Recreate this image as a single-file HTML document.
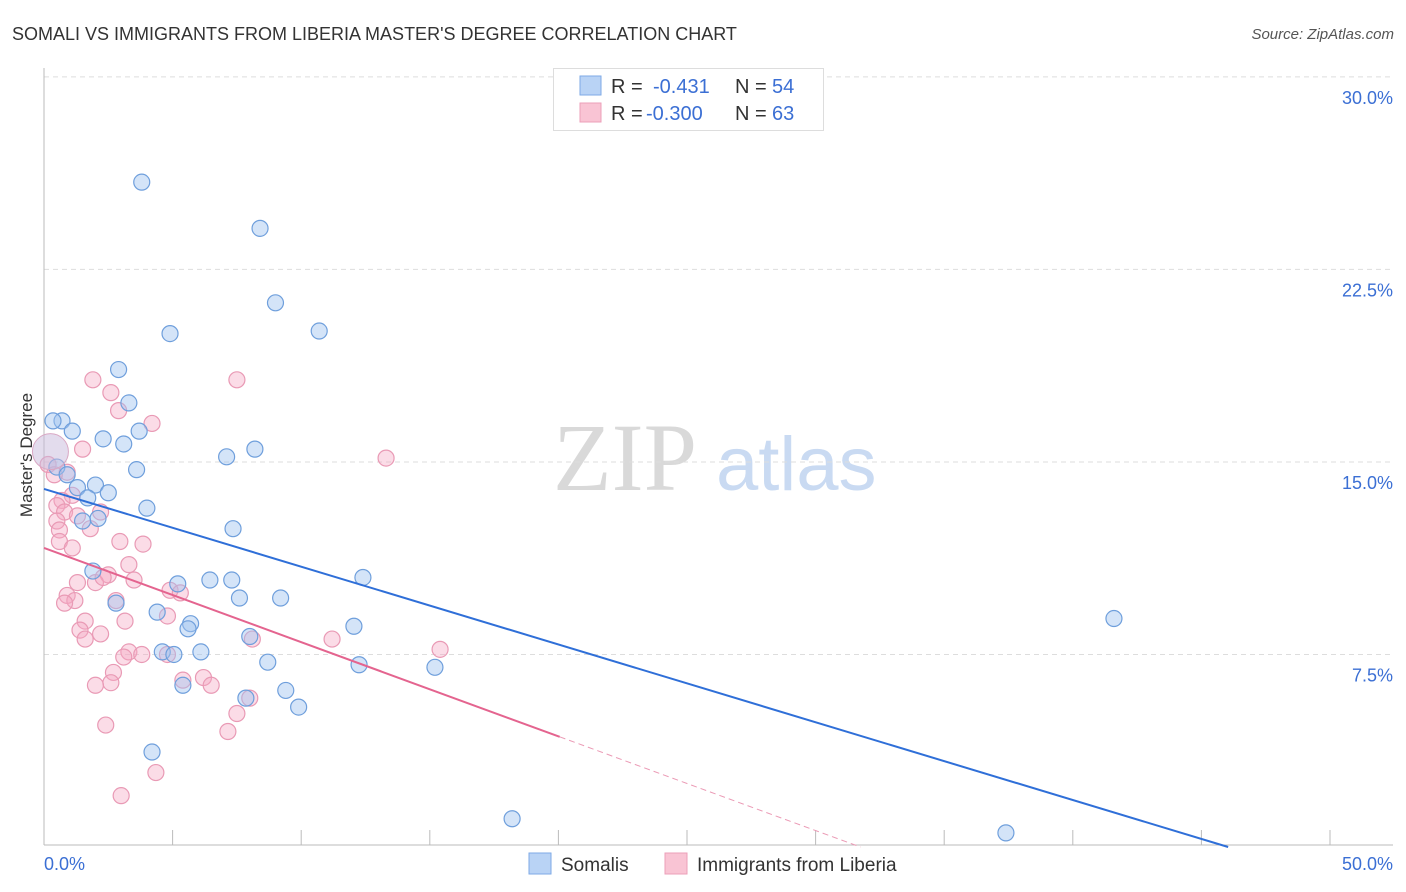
<!DOCTYPE html>
<html><head><meta charset="utf-8"><style>
body{margin:0;background:#fff;font-family:"Liberation Sans",sans-serif}
svg{display:block}
</style></head><body>
<svg id="c" width="1406" height="892" xmlns="http://www.w3.org/2000/svg">
<text x="12" y="40" font-size="18" fill="#333">SOMALI VS IMMIGRANTS FROM LIBERIA MASTER'S DEGREE CORRELATION CHART</text>
<text x="1394" y="39" font-size="15" fill="#555" font-style="italic" text-anchor="end">Source: ZipAtlas.com</text>
<g>
<text x="553" y="490" font-size="96" font-family="Liberation Serif,serif" fill="#d9d9d9">ZIP</text>
<text x="716" y="490" font-size="76" fill="#c9daf2">atlas</text>
</g>
<g id="grid"></g>
<g id="pts"></g>
<g id="lines"></g>
<text x="36" y="455" font-size="17" fill="#333" text-anchor="middle" transform="rotate(-90 36 455)" dy="-4">Master's Degree</text>
<text x="44" y="870" font-size="18" fill="#3b6fd4">0.0%</text>
<text x="1393" y="870" font-size="18" fill="#3b6fd4" text-anchor="end">50.0%</text>
<g>
<rect x="553.500" y="68.500" width="270" height="62" fill="#fff" stroke="#ddd"/>
<rect x="580" y="76" width="21" height="19" fill="#b9d3f5" stroke="#7ea9e6"/>
<rect x="580" y="103" width="21" height="19" fill="#f9c4d4" stroke="#ec9fb9"/>
<text x="611" y="93" font-size="20" fill="#333">R =</text><text x="653" y="93" font-size="20" fill="#3b6fd4">-0.431</text>
<text x="735" y="93" font-size="20" fill="#333">N =</text><text x="772" y="93" font-size="20" fill="#3b6fd4">54</text>
<text x="611" y="120" font-size="20" fill="#333">R =</text><text x="646" y="120" font-size="20" fill="#3b6fd4">-0.300</text>
<text x="735" y="120" font-size="20" fill="#333">N =</text><text x="772" y="120" font-size="20" fill="#3b6fd4">63</text>
</g>
<g>
<rect x="529" y="853" width="22" height="21" fill="#b9d3f5" stroke="#7ea9e6"/>
<text x="561" y="871" font-size="19" fill="#333">Somalis</text>
<rect x="665" y="853" width="22" height="21" fill="#f9c4d4" stroke="#ec9fb9"/>
<text x="697" y="871" font-size="19" fill="#333">Immigrants from Liberia</text>
</g>
</svg>
<script>
const yTicks=[7.5,15,22.5,30];
const yTickLabels=["7.5%","15.0%","22.5%","30.0%"];
const xTicks=[0,5,10,15,20,25,30,35,40,45,50];
const somaliX=[3.8,8.4,9.0,4.9,10.7,2.9,3.3,0.7,1.1,3.7,2.3,3.1,0.35,7.1,8.2,3.6,0.5,0.9,1.3,2.0,1.7,2.5,4.0,2.1,1.5,7.35,1.9,5.2,6.45,7.3,7.6,9.2,2.8,4.4,5.7,5.6,12.4,12.05,8.0,4.6,5.05,6.1,8.7,12.25,15.2,5.4,7.85,9.4,9.9,4.2,18.2,37.4,41.6];
const somaliY=[25.9,24.1,21.2,20.0,20.1,18.6,17.3,16.6,16.2,16.2,15.9,15.7,16.6,15.2,15.5,14.7,14.8,14.5,14.0,14.1,13.6,13.8,13.2,12.8,12.7,12.4,10.75,10.25,10.4,10.4,9.7,9.7,9.5,9.15,8.7,8.5,10.5,8.6,8.2,7.6,7.5,7.6,7.2,7.1,7.0,6.3,5.8,6.1,5.45,3.7,1.1,0.55,8.9];
const liberiaX=[1.9,7.5,2.6,2.9,4.2,1.5,13.3,0.16,0.9,0.4,1.1,0.7,0.5,0.8,2.2,1.3,0.5,1.8,0.6,2.95,3.85,0.6,1.1,3.3,2.5,1.3,2.0,3.5,2.3,4.9,5.3,0.9,1.2,2.8,0.8,3.15,4.8,1.6,1.4,1.6,2.2,8.1,11.2,15.4,3.3,3.1,3.8,4.8,2.7,2.6,2.0,6.2,5.4,6.5,8.0,7.5,2.4,7.15,4.35,3.0];
const liberiaY=[18.2,18.2,17.7,17.0,16.5,15.5,15.15,14.9,14.6,14.5,13.7,13.5,13.3,13.05,13.05,12.9,12.7,12.4,12.35,11.9,11.8,11.9,11.65,11.0,10.6,10.3,10.3,10.4,10.5,10.0,9.9,9.8,9.6,9.6,9.5,8.8,9.0,8.8,8.45,8.1,8.3,8.1,8.1,7.7,7.6,7.4,7.5,7.5,6.8,6.4,6.3,6.6,6.5,6.3,5.8,5.2,4.75,4.5,2.9,2.0];
const somaliTrend=[13.95,-0.303];
const liberiaTrend=[11.65,-0.367];
const NS="http://www.w3.org/2000/svg";
const X=v=>44+v*25.72, Y=v=>847-v*25.67;
function mk(t,a,p){const e=document.createElementNS(NS,t);for(const k in a)e.setAttribute(k,a[k]);p.appendChild(e);return e;}
const grid=document.getElementById('grid');
yTicks.forEach((t,i)=>{
 const l=mk('line',{x1:44,x2:1393,y1:Y(t),y2:Y(t),stroke:'#ddd','stroke-dasharray':'5,4'},grid);
 
 
 const tx=mk('text',{x:1393,y:Y(t)+27,'font-size':18,fill:'#3b6fd4','text-anchor':'end'},grid);
 tx.textContent=yTickLabels[i];
 
 
});
const ax=mk('line',{x1:44,x2:44,y1:68,y2:845,stroke:'#bbb'},grid);


const bx=mk('line',{x1:44,x2:1393,y1:845,y2:845,stroke:'#bbb'},grid);


xTicks.forEach(t=>{const k=mk('line',{x1:X(t),x2:X(t),y1:830,y2:845,stroke:'#bbb'},grid);
 
 });
const pts=document.getElementById('pts');
liberiaX.forEach((x,i)=>{const c=mk('circle',{cx:X(x),cy:Y(liberiaY[i]),r:8,fill:'rgba(245,168,195,0.4)',stroke:'#e99ab5','stroke-width':1.2},pts);
 
 });
somaliX.forEach((x,i)=>{const c=mk('circle',{cx:X(x),cy:Y(somaliY[i]),r:8,fill:'rgba(160,195,240,0.45)',stroke:'#6f9fdc','stroke-width':1.2},pts);
 
 });
const big=mk('circle',{cx:X(0.25),cy:Y(15.4),r:18,fill:'rgba(200,185,220,0.5)',stroke:'#d9a8c4','stroke-width':1},pts);


const lines=document.getElementById('lines');
const s0=-somaliTrend[0]/somaliTrend[1];
const sl=mk('line',{x1:X(0),y1:Y(somaliTrend[0]),x2:X(s0),y2:Y(0),stroke:'#2f6fd8','stroke-width':2},lines);


const lEnd=20.05, l0=-liberiaTrend[0]/liberiaTrend[1];
const ll=mk('line',{x1:X(0),y1:Y(liberiaTrend[0]),x2:X(lEnd),y2:Y(liberiaTrend[0]+liberiaTrend[1]*lEnd),stroke:'#e4648f','stroke-width':2},lines);


const ld=mk('line',{x1:X(lEnd),y1:Y(liberiaTrend[0]+liberiaTrend[1]*lEnd),x2:X(l0),y2:Y(0),stroke:'#eb9ab5','stroke-width':1,'stroke-dasharray':'6,4'},lines);


</script>
</body></html>
